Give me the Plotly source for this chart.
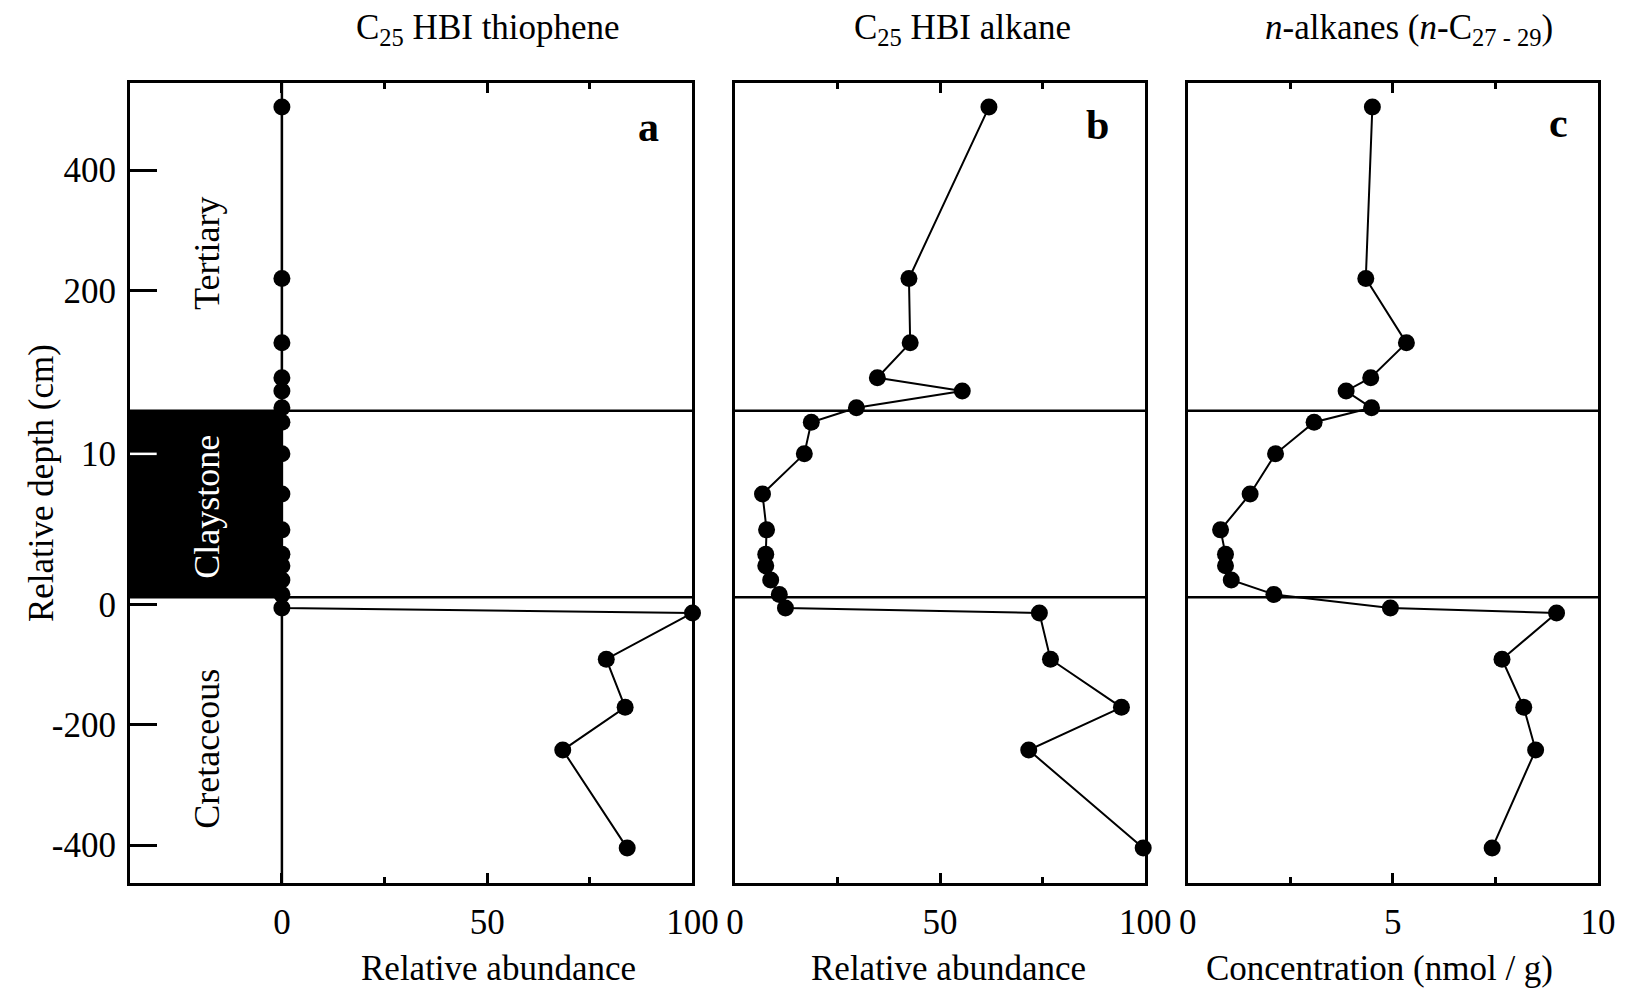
import plotly.graph_objects as go

# ---------------- data ----------------
# depths (cm) of samples, each on its own section scale (broken axis)
depth_tertiary = [505, 220, 113, 55, 33, 5]          # above top of claystone
depth_claystone = [12.2, 10.0, 7.2, 4.7, 3.0, 2.2, 1.2, 0.2]
depth_cretaceous = [-6, -14, -91, -171, -242, -405]

# values ordered: tertiary, claystone, cretaceous
thiophene = [0, 0, 0, 0, 0, 0,
             0, 0, 0, 0, 0, 0, 0, 0,
             0, 100, 79.0, 83.6, 68.4, 84.1]
hbi_alkane = [61.9, 42.4, 42.7, 34.7, 55.4, 29.6,
              18.6, 16.9, 6.7, 7.7, 7.5, 7.5, 8.7, 10.8,
              12.3, 74.2, 76.9, 94.2, 71.6, 99.5]
n_alkanes = [4.50, 4.34, 5.33, 4.46, 3.86, 4.48,
             3.08, 2.14, 1.52, 0.80, 0.92, 0.92, 1.06, 2.10,
             4.94, 8.99, 7.66, 8.19, 8.48, 7.42]

panel_titles = ["C<sub>25</sub> HBI thiophene", "C<sub>25</sub> HBI alkane",
                "<i>n</i>-alkanes (<i>n</i>-C<sub>27 - 29</sub>)"]
panel_letters = ["a", "b", "c"]
x_titles = ["Relative abundance", "Relative abundance", "Concentration (nmol / g)"]

y_tick_tertiary = [400, 200]
y_tick_claystone = [10]
y_tick_cretaceous = [0, -200, -400]

# ---------------- broken-axis scale ----------------
CLAY_THICK = 13.0
CLAY_U = 310.0              # plot units occupied by claystone
K = CLAY_U / CLAY_THICK     # expansion of claystone section
GAP = 12.0


def u_tert(d):
    return CLAY_U + d


def u_clay(d):
    return d * K


def u_cret(d):
    return d - GAP


y_plot = ([u_tert(d) for d in depth_tertiary] + [u_clay(d) for d in depth_claystone]
          + [u_cret(d) for d in depth_cretaceous])

tickvals = ([u_tert(d) for d in y_tick_tertiary] + [u_clay(d) for d in y_tick_claystone]
            + [u_cret(d) for d in y_tick_cretaceous])
ticktext = [str(v) for v in y_tick_tertiary + y_tick_claystone + y_tick_cretaceous]

Y_RANGE = [-475, 855]
XA_MIN = -37

FONT = "Liberation Serif, Times New Roman, serif"
W, H = 1636, 989
ML, MR, MT, MB = 130, 21, 83, 106
PW = W - ML - MR

def px_to_paper(px):
    return (px - ML) / PW

doms = [[px_to_paper(130), px_to_paper(699)],
        [px_to_paper(742), px_to_paper(1157)],
        [px_to_paper(1200), 1.0]]

fig = go.Figure()

series = [thiophene, hbi_alkane, n_alkanes]
for i, vals in enumerate(series):
    xa = "x" if i == 0 else f"x{i+1}"
    ya = "y" if i == 0 else f"y{i+1}"
    fig.add_trace(go.Scatter(x=vals, y=y_plot, mode="lines+markers",
                             line=dict(color="black", width=2),
                             marker=dict(color="black", size=17),
                             xaxis=xa, yaxis=ya, cliponaxis=False,
                             showlegend=False))

axis_common = dict(showgrid=False, zeroline=False, showline=True, linecolor="black",
                   linewidth=3, mirror=True)
tickfont = dict(family=FONT, size=35, color="black")

# x axes
x_ranges = [[XA_MIN, 100], [0, 100], [0, 10]]
x_ticks = [[0, 50, 100], [0, 50, 100], [0, 5, 10]]
x_minor = [[25, 75], [25, 75], [2.5, 7.5]]
for i in range(3):
    key = "xaxis" if i == 0 else f"xaxis{i+1}"
    anchor = "y" if i == 0 else f"y{i+1}"
    fig.layout[key] = dict(domain=doms[i], range=x_ranges[i], anchor=anchor,
                           tickmode="array", tickvals=x_ticks[i],
                           ticktext=[str(v) for v in x_ticks[i]],
                           ticks="inside", ticklen=10, tickwidth=2.5, tickcolor="black",
                           minor=dict(tickvals=x_minor[i], ticks="inside", ticklen=6,
                                      tickwidth=2.5, tickcolor="black"),
                           tickfont=tickfont, ticklabelstandoff=6,
                           **{**axis_common, "mirror": "ticks"})

# y axes
fig.layout["yaxis"] = dict(domain=[0, 1], range=Y_RANGE, anchor="x",
                           tickmode="array", tickvals=tickvals, ticktext=ticktext,
                           ticks="inside", ticklen=27, tickwidth=2.5, tickcolor="black",
                           tickfont=tickfont, ticklabelstandoff=4, **axis_common)
for i in (2, 3):
    fig.layout[f"yaxis{i}"] = dict(domain=[0, 1], range=Y_RANGE, anchor=f"x{i}",
                                   matches="y", showticklabels=False, ticks="",
                                   **axis_common)

shapes = []
# claystone black box
shapes.append(dict(type="rect", xref="x", yref="y", x0=XA_MIN, x1=0,
                   y0=u_clay(0), y1=u_clay(CLAY_THICK), fillcolor="black",
                   line=dict(width=0), layer="below"))
# boundary lines
for i in range(3):
    xr = "x domain" if i == 0 else f"x{i+1} domain"
    yr = "y" if i == 0 else f"y{i+1}"
    for yv in (u_clay(0), u_clay(CLAY_THICK)):
        shapes.append(dict(type="line", xref=xr, yref=yr, x0=0, x1=1, y0=yv, y1=yv,
                           line=dict(color="black", width=2.5)))
# vertical line at 0 in panel a
shapes.append(dict(type="line", xref="x", yref="y domain", x0=0, x1=0, y0=0, y1=1,
                   line=dict(color="black", width=2.5)))
# white tick inside the claystone box
shapes.append(dict(type="line", xref="paper", yref="y", x0=0, x1=27 / PW,
                   y0=u_clay(10), y1=u_clay(10), line=dict(color="white", width=2.5),
                   layer="above"))

annotations = []
title_x = [492, 972, 1424]
letter_pos = [(655, 127), (1109, 125), (1575, 123)]
xtitle_x = [503, 958, 1394]
for i in range(3):
    annotations.append(dict(text=panel_titles[i], xref="paper", yref="paper",
                            x=px_to_paper(title_x[i]), y=(H - MB - 29) / (H - MT - MB),
                            showarrow=False, font=dict(family=FONT, size=35, color="black"),
                            xanchor="center", yanchor="middle"))
    annotations.append(dict(text=f"<b>{panel_letters[i]}</b>", xref="paper", yref="paper",
                            x=px_to_paper(letter_pos[i][0]),
                            y=(H - MB - letter_pos[i][1]) / (H - MT - MB),
                            showarrow=False, font=dict(family=FONT, size=42, color="black"),
                            xanchor="center", yanchor="middle"))
    annotations.append(dict(text=x_titles[i], xref="paper", yref="paper",
                            x=px_to_paper(xtitle_x[i]), y=(H - MB - 968) / (H - MT - MB),
                            showarrow=False, font=dict(family=FONT, size=35, color="black"),
                            xanchor="center", yanchor="middle"))

annotations.append(dict(text="Relative depth (cm)", xref="paper", yref="paper",
                        x=px_to_paper(40), y=0.5, textangle=-90, showarrow=False,
                        font=dict(family=FONT, size=35, color="black"),
                        xanchor="center", yanchor="middle"))

litho_x = -18.3
annotations.append(dict(text="Tertiary", xref="x", yref="y", x=litho_x, y=u_tert(262),
                        textangle=-90, showarrow=False,
                        font=dict(family=FONT, size=36, color="black")))
annotations.append(dict(text="Claystone", xref="x", yref="y", x=litho_x, y=u_clay(6.3),
                        textangle=-90, showarrow=False,
                        font=dict(family=FONT, size=36, color="white")))
annotations.append(dict(text="Cretaceous", xref="x", yref="y", x=litho_x, y=u_cret(-240),
                        textangle=-90, showarrow=False,
                        font=dict(family=FONT, size=36, color="black")))

fig.update_layout(width=W, height=H, margin=dict(l=ML, r=MR, t=MT, b=MB),
                  paper_bgcolor="white", plot_bgcolor="white",
                  shapes=shapes, annotations=annotations, showlegend=False,
                  font=dict(family=FONT, color="black"))

fig.write_html("out.html")
